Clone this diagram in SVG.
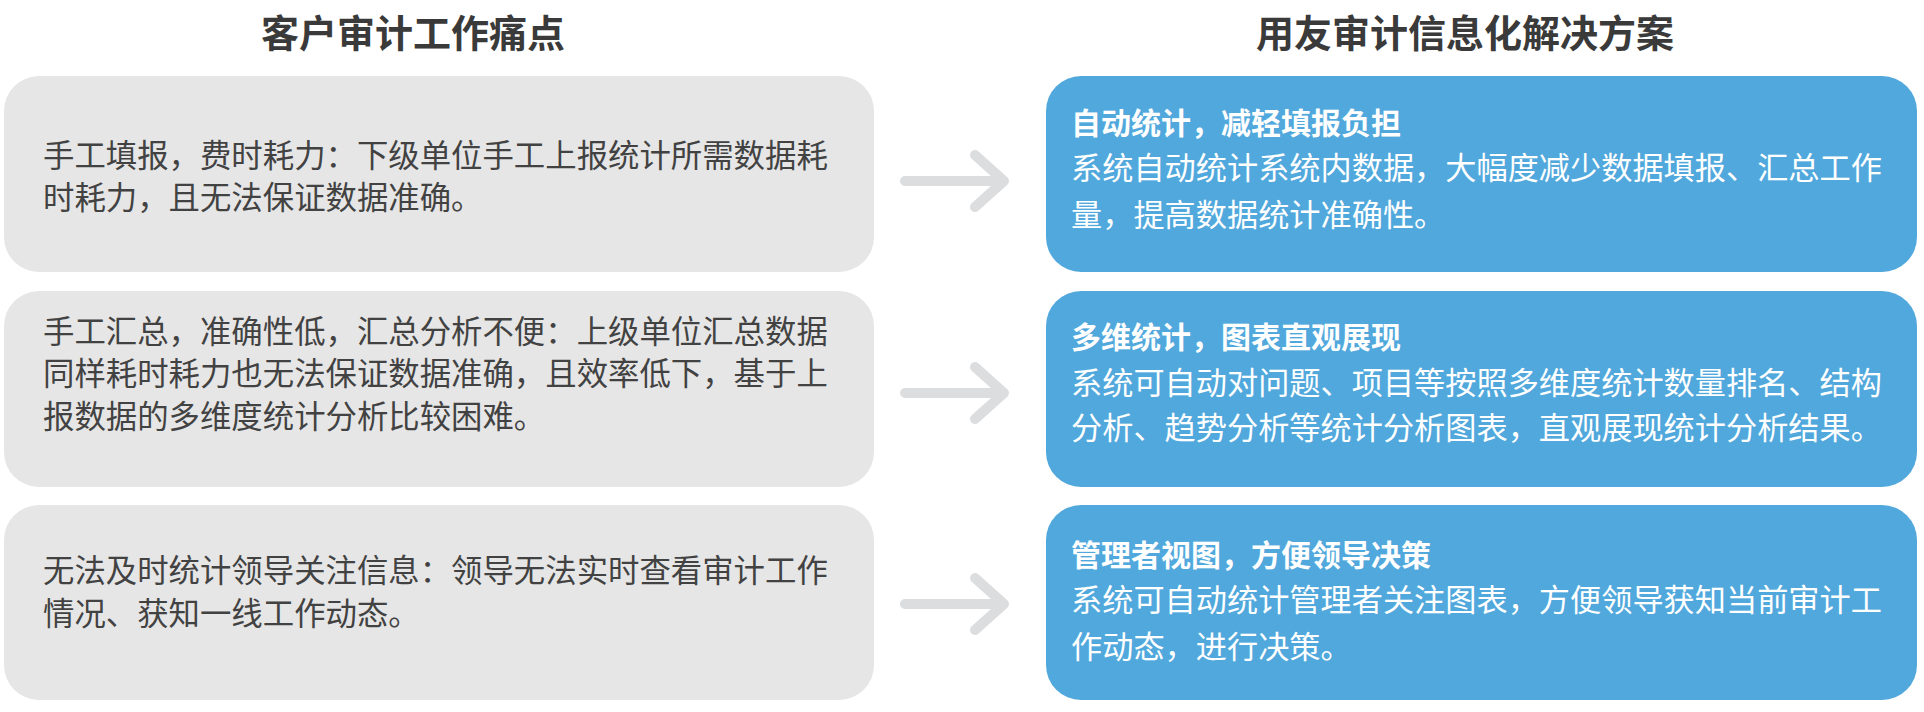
<svg xmlns="http://www.w3.org/2000/svg" width="1924" height="712" viewBox="0 0 1924 712">
<defs>
<style>
.bg{fill:#ffffff}
.head{font-family:"Noto Sans CJK SC","Noto Sans",sans-serif;font-size:38px;font-weight:bold;fill:#3a3a3a;text-anchor:middle}
.pain rect{fill:#e6e6e6}
.sol rect{fill:#51a8dc}
.pt{font-family:"Noto Sans CJK SC","Noto Sans",sans-serif;font-size:31.4px;fill:#424242}
.st{font-family:"Noto Sans CJK SC","Noto Sans",sans-serif;font-size:31.2px;fill:#ffffff}
.sh{font-family:"Noto Sans CJK SC","Noto Sans",sans-serif;font-size:30px;font-weight:bold;fill:#ffffff}
.arrow{fill:none;stroke:#dcdddf;stroke-width:10;stroke-linecap:round;stroke-linejoin:round}
</style>
</defs>
<rect class="bg" x="0" y="0" width="1924" height="712"/>
<g id="headers">
<text class="head" x="413" y="47">客户审计工作痛点</text>
<text class="head" x="1465" y="47">用友审计信息化解决方案</text>
</g>
<g id="pain1" class="pain">
<rect x="4" y="76" width="870" height="196" rx="35"/>
<text class="pt" x="43" y="167">手工填报，费时耗力：下级单位手工上报统计所需数据耗</text>
<text class="pt" x="43" y="209">时耗力，且无法保证数据准确。</text>
</g>
<g id="pain2" class="pain">
<rect x="4" y="291" width="870" height="196" rx="35"/>
<text class="pt" x="43" y="343">手工汇总，准确性低，汇总分析不便：上级单位汇总数据</text>
<text class="pt" x="43" y="385">同样耗时耗力也无法保证数据准确，且效率低下，基于上</text>
<text class="pt" x="43" y="428">报数据的多维度统计分析比较困难。</text>
</g>
<g id="pain3" class="pain">
<rect x="4" y="505" width="870" height="195" rx="35"/>
<text class="pt" x="43" y="582">无法及时统计领导关注信息：领导无法实时查看审计工作</text>
<text class="pt" x="43" y="625">情况、获知一线工作动态。</text>
</g>
<g id="sol1" class="sol">
<rect x="1046" y="76" width="871" height="196" rx="35"/>
<text class="sh" x="1071" y="134">自动统计，减轻填报负担</text>
<text class="st" x="1071" y="179">系统自动统计系统内数据，大幅度减少数据填报、汇总工作</text>
<text class="st" x="1071" y="226">量，提高数据统计准确性。</text>
</g>
<g id="sol2" class="sol">
<rect x="1046" y="291" width="871" height="196" rx="35"/>
<text class="sh" x="1071" y="348">多维统计，图表直观展现</text>
<text class="st" x="1071" y="394">系统可自动对问题、项目等按照多维度统计数量排名、结构</text>
<text class="st" x="1071" y="439">分析、趋势分析等统计分析图表，直观展现统计分析结果。</text>
</g>
<g id="sol3" class="sol">
<rect x="1046" y="505" width="871" height="195" rx="35"/>
<text class="sh" x="1071" y="566">管理者视图，方便领导决策</text>
<text class="st" x="1071" y="611">系统可自动统计管理者关注图表，方便领导获知当前审计工</text>
<text class="st" x="1071" y="658">作动态，进行决策。</text>
</g>
<g id="connectors">
<path class="arrow" d="M905 181 H1004 M975 155 L1004 181 L975 207"/>
<path class="arrow" d="M905 393 H1004 M975 367 L1004 393 L975 419"/>
<path class="arrow" d="M905 604 H1004 M975 578 L1004 604 L975 630"/>
</g>
</svg>
